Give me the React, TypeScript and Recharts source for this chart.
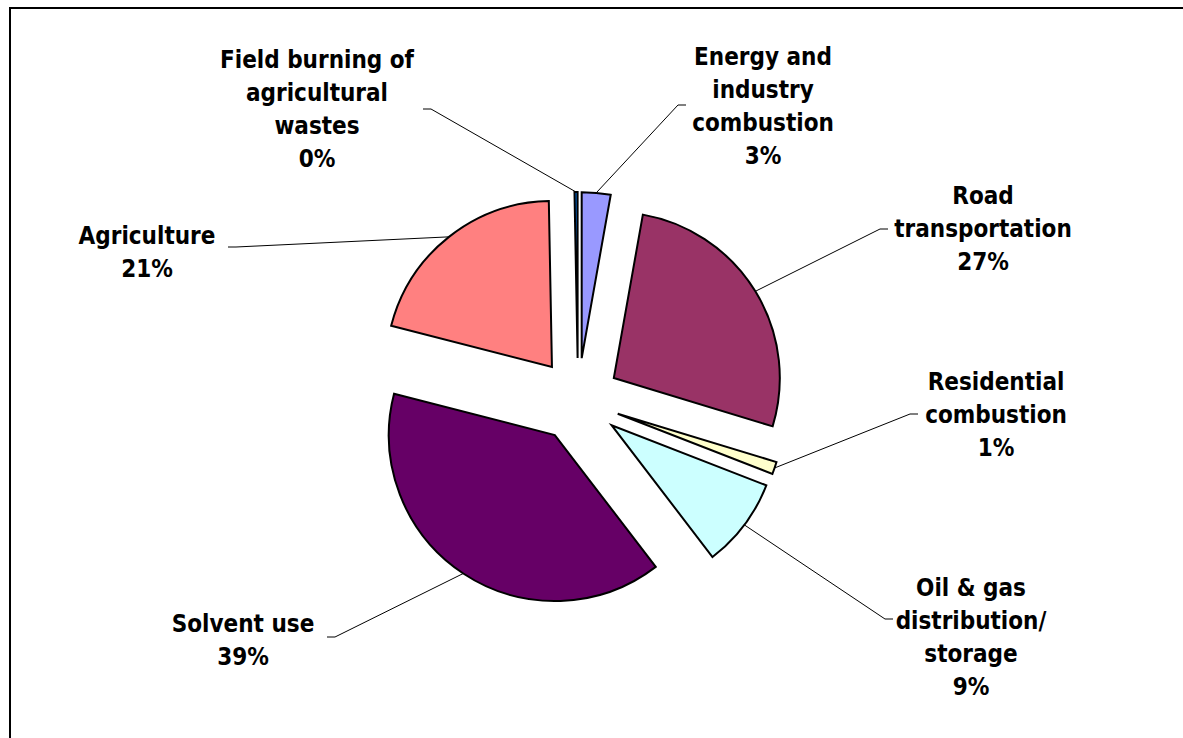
import { Cell, Pie, PieChart } from "recharts";

const categories = [
  "Energy and industry combustion",
  "Road transportation",
  "Residential combustion",
  "Oil & gas distribution/ storage",
  "Solvent use",
  "Agriculture",
  "Field burning of agricultural wastes",
];
const shares = [2.8, 26.9, 1.2, 8.7, 39.4, 20.7, 0.3];
const labelLines = [
  ["Energy and", "industry", "combustion"],
  ["Road", "transportation"],
  ["Residential", "combustion"],
  ["Oil & gas", "distribution/", "storage"],
  ["Solvent use"],
  ["Agriculture"],
  ["Field burning of", "agricultural", "wastes"],
];
const colors = ["#9999FF", "#993366", "#FFFFCC", "#CCFFFF", "#660066", "#FF8080", "#0066CC"];

// label blocks were dragged by hand in the original, so they sit at fixed spots
const labelLayout = [
  { x: 763, y: 65, ax: 686, ay: 105 },
  { x: 983, y: 204, ax: 888, ay: 229 },
  { x: 996, y: 390, ax: 918, ay: 414 },
  { x: 971, y: 596, ax: 893, ay: 619 },
  { x: 243, y: 632, ax: 327, ay: 637 },
  { x: 147, y: 244, ax: 228, ay: 247 },
  { x: 317, y: 68, ax: 423, ay: 109 },
];

const W = 1183;
const H = 738;
const CENTER = { x: 578, y: 400 };
const RADIUS = 166;
const EXPLODE = 42;
const LINE_H = 33;
const FONT = '"DejaVu Sans Condensed", "DejaVu Sans", sans-serif';
const RAD = Math.PI / 180;

const data = categories.map((name, i) => ({ name, value: shares[i] }));
const total = shares.reduce((a, b) => a + b, 0);

function sliceMid(i: number) {
  const before = shares.slice(0, i).reduce((a, b) => a + b, 0);
  return 90 - ((before + shares[i] / 2) / total) * 360;
}

function renderLabel(props: any, i: number) {
  if (props.index !== i) return null;
  const { cx, cy, outerRadius, midAngle, percent } = props;
  const ex = cx + outerRadius * Math.cos(-midAngle * RAD);
  const ey = cy + outerRadius * Math.sin(-midAngle * RAD);
  const l = labelLayout[i];
  const dir = l.ax > l.x ? 1 : -1;
  const lines = [...labelLines[i], `${Math.round(percent * 100)}%`];
  return (
    <g key={`label-${i}`}>
      <polyline
        points={`${l.ax},${l.ay} ${l.ax + dir * 8},${l.ay} ${ex},${ey}`}
        fill="none"
        stroke="#000"
        strokeWidth={1}
      />
      <text x={l.x} y={l.y} textAnchor="middle" fill="#000" fontFamily={FONT} fontWeight="bold" fontSize={24}>
        {lines.map((t, k) => (
          <tspan key={k} x={l.x} y={l.y + k * LINE_H}>
            {t}
          </tspan>
        ))}
      </text>
    </g>
  );
}

export default function App() {
  return (
    <div style={{ position: "relative", width: W, height: H, background: "#fff" }}>
      <style>{"body{margin:0;overflow:hidden}"}</style>
      <div
        style={{
          position: "absolute",
          left: 9,
          top: 7,
          width: W,
          height: H,
          borderLeft: "2px solid #000",
          borderTop: "2px solid #000",
        }}
      />
      <PieChart width={W} height={H} margin={{ top: 0, right: 0, bottom: 0, left: 0 }}>
        {shares.map((_, i) => {
          const m = sliceMid(i) * RAD;
          return (
            <Pie
              key={i}
              data={data}
              dataKey="value"
              nameKey="name"
              cx={CENTER.x + EXPLODE * Math.cos(m)}
              cy={CENTER.y - EXPLODE * Math.sin(m)}
              outerRadius={RADIUS}
              startAngle={90}
              endAngle={-270}
              stroke="none"
              label={(p: any) => renderLabel(p, i)}
              labelLine={false}
              isAnimationActive={false}
            >
              {data.map((d, j) => (
                <Cell
                  key={d.name}
                  fill={j === i ? colors[j] : "none"}
                  stroke={j === i ? "#000" : "none"}
                  strokeWidth={2}
                />
              ))}
            </Pie>
          );
        })}
      </PieChart>
    </div>
  );
}
